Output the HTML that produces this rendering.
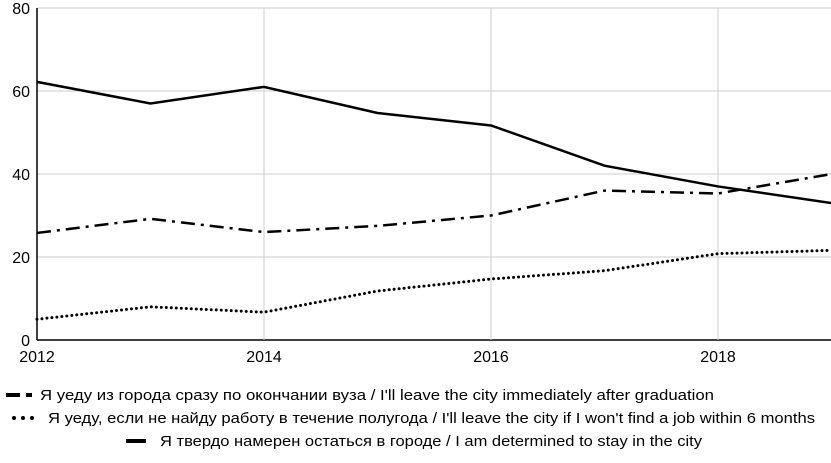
<!DOCTYPE html>
<html><head><meta charset="utf-8"><style>
body{margin:0;background:#fff;width:831px;height:458px;overflow:hidden;font-family:"Liberation Sans",sans-serif}
text{font-family:"Liberation Sans",sans-serif}
</style></head><body>
<svg id="c" width="831" height="458"></svg>
<script>
const years=[2012,2013,2014,2015,2016,2017,2018,2019];
const leaveNow=[25.8,29.2,26,27.5,30,36,35.3,40];
const leaveNoJob=[5,8,6.7,11.8,14.7,16.7,20.8,21.6];
const stay=[62.2,57,61,54.7,51.7,42,37,33];
const yTicks=[0,20,40,60,80];
const xTicks=[2012,2014,2016,2018];
const legendLabels=["Я уеду из города сразу по окончании вуза / I'll leave the city immediately after graduation","Я уеду, если не найду работу в течение полугода / I'll leave the city if I won't find a job within 6 months","Я твердо намерен остаться в городе / I am determined to stay in the city"];
const ns="http://www.w3.org/2000/svg",svg=document.getElementById('c');
const x=v=>37+(v-2012)*113.5, y=v=>340-v*4.15;
function el(t,a,p){const e=document.createElementNS(ns,t);for(const k in a)e.setAttribute(k,a[k]);(p||svg).appendChild(e);return e;}
yTicks.forEach(t=>{
 const g=el('line',{x1:37,x2:831,y1:y(t),y2:y(t),stroke:t===0?'#000':'#ccc','stroke-width':t===0?1.5:1});
 
 
 const l=el('text',{x:30,y:y(t)+6,'text-anchor':'end','font-size':16,fill:'#000'});l.textContent=t;
 
 
});
xTicks.forEach(t=>{
 if(t>2012){const g=el('line',{x1:x(t),x2:x(t),y1:y(80),y2:y(0),stroke:'#ccc'});
 
 }
 const l=el('text',{x:x(t),y:362,'text-anchor':'middle','font-size':16,fill:'#000'});l.textContent=t;
 
 
});
const ax=el('line',{x1:37,x2:37,y1:y(80),y2:y(0),stroke:'#000','stroke-width':1.5});


const series=[[leaveNow,'14 6 3 6','series-leave-now','butt'],[leaveNoJob,'0 5','series-leave-no-job','round'],[stay,'','series-stay','butt']];
series.forEach(s=>{
 const p=el('polyline',{points:s[0].map((v,i)=>x(years[i])+','+y(v)).join(' '),fill:'none',stroke:'#000','stroke-width':s[3]==='round'?3:2.5,'stroke-dasharray':s[1],'stroke-linecap':s[3]});
 
 
});
const lx=[6,14,126],ly=[395,418,441],lt=[40,48,160],lw=[674,767,542];
legendLabels.forEach((t,i)=>{
 const m=el('line',{x1:lx[i],x2:lx[i]+26,y1:ly[i],y2:ly[i],stroke:'#000','stroke-width':4,'stroke-dasharray':i===0?'14 6 6 100':i===1?'0 9':'20 100','stroke-linecap':i===1?'round':'butt'});
 
 
 const l=el('text',{x:lt[i],y:ly[i]+5,'font-size':15,fill:'#000',textLength:lw[i],lengthAdjust:'spacingAndGlyphs'});l.textContent=t;
 
 
});
</script>
</body></html>
